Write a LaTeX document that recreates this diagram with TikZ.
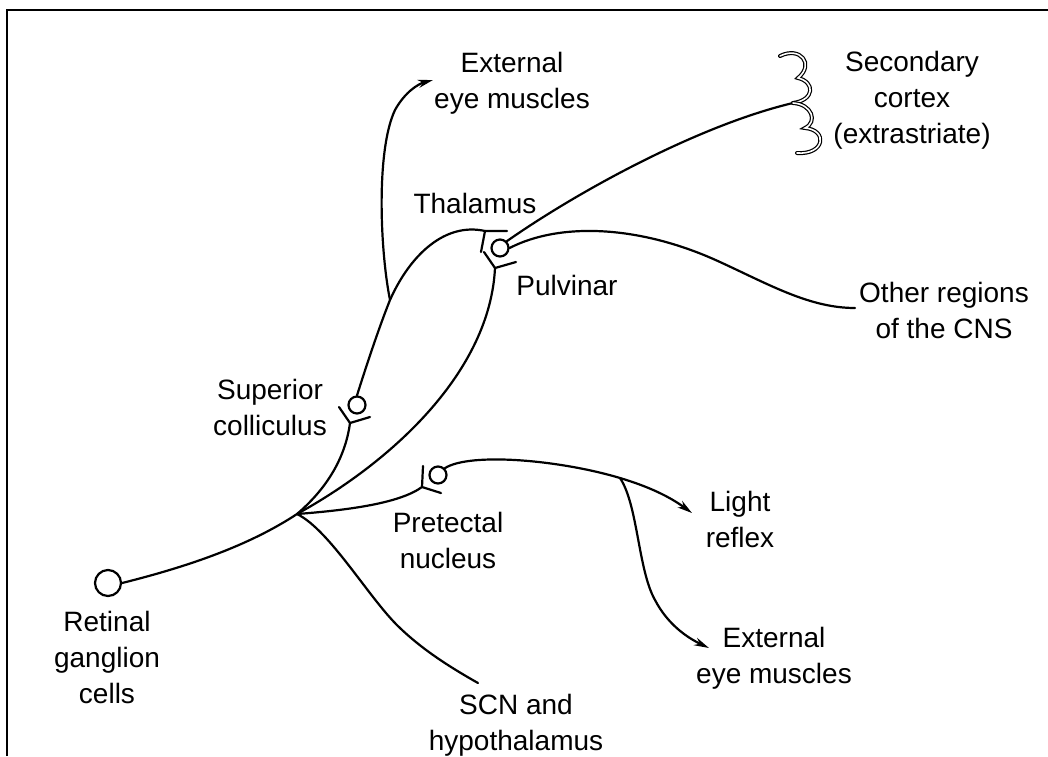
\documentclass[tikz,border=0pt]{standalone}
\usepackage{fontspec}
\setmainfont{Liberation Sans}
\usetikzlibrary{arrows.meta}
\begin{document}
\begin{tikzpicture}[x=1pt,y=-1pt,
  lbl/.style={font=\fontsize{28}{36}\selectfont, align=center, inner sep=0pt},
  axon/.style={line width=2.2pt, line cap=round},
  arr/.style={axon, -{Stealth[length=15pt,width=8pt]}},
  cell/.style={circle, draw, line width=2.2pt, inner sep=0pt, minimum size=#1},
  cup/.style={line width=2.2pt, line cap=round, line join=round},
  brace/.style={line width=1.2pt, double, double distance=1.6pt, line cap=round}]
\useasboundingbox (0,0) rectangle (1048,756);
% frame
\draw[line width=2.6pt] (7,756) -- (7,10) -- (1048,10);

% cells
\node[cell=26pt] (rgc) at (108,583) {};
\node[cell=17pt] (sc) at (357,405) {};
\node[cell=17pt] (th) at (500,248) {};
\node[cell=17pt] (pt) at (438,475) {};

% coordinates
\coordinate (B) at (297,514);
\coordinate (scv) at (350,423);
\coordinate (thv) at (485,231);
\coordinate (pv) at (495,268);
\coordinate (ptv) at (422,487);
\coordinate (br1) at (390,300);
\coordinate (eyetop) at (433,80);
\coordinate (brj) at (793,103);
\coordinate (othend) at (855,308);
\coordinate (lb) at (620,478);
\coordinate (lightend) at (692,513);
\coordinate (eyebot) at (709,648);
\coordinate (scnend) at (478,683);

% labels
\node[lbl] (tEyeTop) at (512,83) {External\\eye muscles};
\node[lbl] (tSec) at (912,100) {Secondary\\cortex\\(extrastriate)};
\node[lbl] (tThal) at (475,203) {Thalamus};
\node[lbl] (tPulv) at (567,285) {Pulvinar};
\node[lbl] (tOther) at (944,310) {Other regions\\of the CNS};
\node[lbl] (tSC) at (270,407) {Superior\\colliculus};
\node[lbl] (tPre) at (448,540) {Pretectal\\nucleus};
\node[lbl] (tLight) at (740,519) {Light\\reflex};
\node[lbl] (tEyeBot) at (774,658) {External\\eye muscles};
\node[lbl] (tSCN) at (516,725) {SCN and\\hypothalamus};
\node[lbl] (tRGC) at (107,657) {Retinal\\ganglion\\cells};

% axons
\draw[axon] (rgc.east) .. controls (190,566) and (250,545) .. (B);
\draw[axon] (B) .. controls (325,490) and (345,460) .. (scv);
\draw[axon] (sc.north) .. controls (365,370) and (378,330) .. (br1)
  .. controls (410,255) and (445,222) .. (thv);
\draw[arr] (br1) .. controls (380,250) and (376,150) .. (395,110)
  .. controls (405,92) and (418,84) .. (eyetop);
\draw[axon] (B) .. controls (395,460) and (490,370) .. (pv);
\draw[axon] (B) .. controls (350,510) and (400,503) .. (ptv);
\draw[axon] (B) .. controls (330,530) and (370,600) .. (400,628)
  .. controls (425,652) and (455,670) .. (scnend);

\draw[axon] (th.north east) .. controls (580,190) and (700,125) .. (brj);
\draw[axon] (th.east) .. controls (560,222) and (640,225) .. (720,262)
  .. controls (770,285) and (810,308) .. (othend);

\draw[axon] (pt.north east) .. controls (470,452) and (560,460) .. (lb);
\draw[arr] (lb) .. controls (650,487) and (670,497) .. (lightend);
\draw[arr] (lb) .. controls (638,505) and (638,570) .. (655,600)
  .. controls (668,625) and (688,638) .. (eyebot);

% synaptic cups
\draw[cup] (339,407) -- (scv) -- (370,417);
\draw[cup] (507,231) -- (thv) -- (481,252);
\draw[cup] (484,252) -- (pv) -- (516,262);
\draw[cup] (423,466) -- (ptv) -- (441,493);

% braces
\draw[brace] (780,56) .. controls (800,46) and (815,64) .. (798,78)
  .. controls (815,82) and (815,100) .. (brj);
\draw[brace] (brj) .. controls (812,104) and (818,122) .. (805,128)
  .. controls (828,130) and (825,155) .. (797,153);
\end{tikzpicture}
\end{document}
